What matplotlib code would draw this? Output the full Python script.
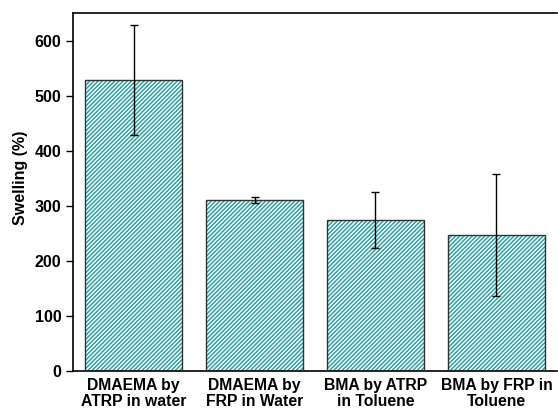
import numpy as np
import matplotlib.pyplot as plt

plt.rcParams['font.family'] = ['Liberation Sans', 'DejaVu Sans']
plt.rcParams['font.weight'] = 'bold'
plt.rcParams['hatch.linewidth'] = 1.1

# Datos
labels = ['DMAEMA by\nATRP in water', 'DMAEMA by\nFRP in Water',
          'BMA by ATRP\nin Toluene', 'BMA by FRP in\nToluene']
swelling = [528, 311, 274, 247]
err = [100, 5, 51, 111]

clr = '#2fa3a3'
x = np.arange(len(labels))

fig = plt.figure(figsize=(5.58, 4.12), dpi=100)
ax = fig.add_axes([0.131, 0.0995, 0.867, 0.8685])
ax.bar(x, swelling, width=0.8, color='white', edgecolor=clr, hatch='////////',
       linewidth=0, zorder=2)
ax.bar(x, swelling, width=0.8, color='none', edgecolor='#333333',
       linewidth=1.0, zorder=3)
ax.errorbar(x, swelling, yerr=err, fmt='none', ecolor='black', elinewidth=1,
            capsize=3, capthick=1, zorder=4)

ax.set_xlim(-0.5, 3.5)
ax.set_ylim(0, 650)
ax.set_yticks(np.arange(0, 700, 100))
ax.set_xticks(x)
ax.set_xticklabels(labels, fontsize=11.3, fontweight='bold', linespacing=1.1)
ax.tick_params(axis='x', length=0, pad=5)
ax.tick_params(axis='y', direction='out', length=5, width=1, labelsize=11.5)
ax.set_ylabel('Swelling (%)', fontsize=11.5, fontweight='bold')
ax.yaxis.set_label_coords(-0.094, 0.539)
ax.spines['right'].set_visible(False)
for s in ['left', 'top', 'bottom']:
    ax.spines[s].set_linewidth(1.2)

fig.savefig('out.png', dpi=100)
